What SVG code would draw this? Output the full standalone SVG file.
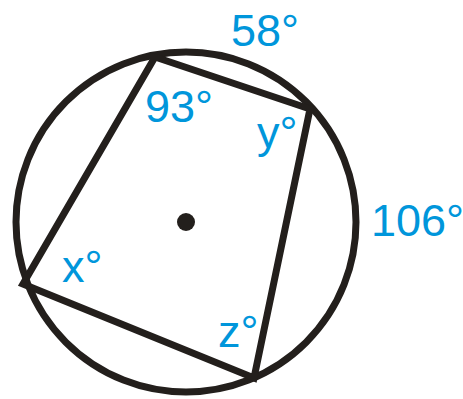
<svg xmlns="http://www.w3.org/2000/svg" width="463" height="399" viewBox="0 0 463 399">
<style>
.lbl{font-family:"Liberation Sans",Arial,sans-serif;font-size:45px;fill:#0096db}
.ln{stroke:#231f1c;stroke-width:7;fill:none;stroke-linejoin:miter}
</style>
<rect width="463" height="399" fill="#fff"/>
<g id="circle"><circle class="ln" cx="186" cy="222" r="170"/></g>
<g id="center"><circle cx="186" cy="222" r="9" fill="#231f1c"/></g>
<g id="connectors">
<polygon class="ln" points="155,57 310,109 254,378 23,284"/>
</g>
<g id="labels">
<text class="lbl" x="231" y="46">58°</text>
<text class="lbl" x="145" y="122">93°</text>
<text class="lbl" x="257" y="148">y°</text>
<text class="lbl" x="371" y="236">106°</text>
<text class="lbl" x="62" y="282">x°</text>
<text class="lbl" x="218" y="347">z°</text>
</g>
</svg>
